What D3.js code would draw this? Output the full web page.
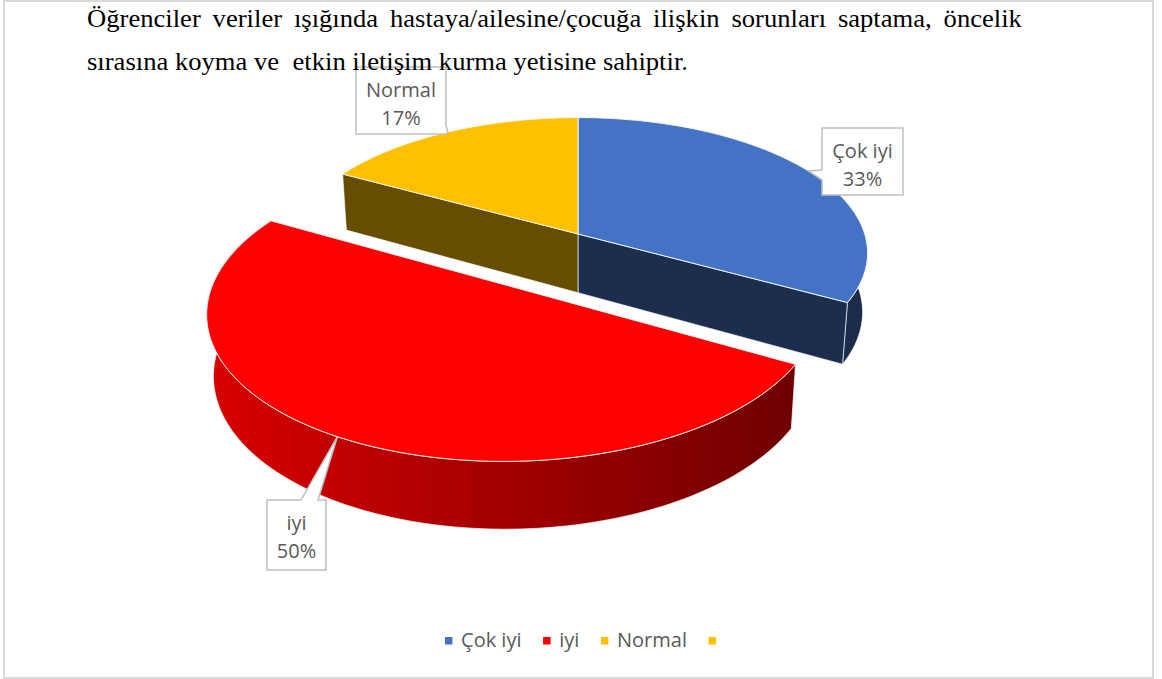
<!DOCTYPE html>
<html>
<head>
<meta charset="utf-8">
<script src="https://cdn.jsdelivr.net/npm/d3@7"></script>
<style>
  body { margin: 0; background: #fff; }
  svg { display: block; }
  .title text { font-family: "Liberation Serif", "Times New Roman", serif; font-size: 24.5px; fill: #000; white-space: pre; }
  .lbl text, .legend text { font-family: "Open Sans", sans-serif; font-size: 20px; fill: #595959; }
</style>
</head>
<body>
<div id="chart"></div>
<script>
// chart data
const categories = ['Çok iyi', 'iyi', 'Normal', ''];
const values = [33, 50, 17, 0];
const colors = ['#4472C4', '#FF0000', '#FFC000', '#FFC000'];
const titleLines = [
    'Öğrenciler veriler ışığında hastaya/ailesine/çocuğa ilişkin sorunları saptama, öncelik',
    'sırasına koyma ve  etkin iletişim kurma yetisine sahiptir.'
];

// exploded slices (in pie radii)
const explode = {'iyi': 0.435};

// callout boxes, side = where the wedge leaves the box, base = wedge base along that side
const labelBoxes = {
    'Çok iyi': {x: 822, y: 128, w: 81, h: 67, side: 'left', base: [42, 52]},
    'iyi': {x: 267, y: 500, w: 59, h: 70, side: 'top', base: [34, 51]},
    'Normal': {x: 356, y: 67, w: 90, h: 67, side: 'right', base: [58, 67]}
};

let width = 1162, height = 679,
    // projection of the 3d pie
    cx = 578, cy = 234,
    K = 286.7,
    sinE = 0.463, cosE = Math.sqrt(1 - 0.463 * 0.463),
    dist = 6.32,
    thick = 0.235;

// perspective projection: X right, Y up, Z away from viewer (units = pie radius)
function project(X, Y, Z) {
    let den = 1 + (Z * cosE - Y * sinE) / dist;
    return [cx + K * X / den, cy - K * (Z * sinE + Y * cosE) / den];
}

const svg = d3.select('#chart')
    .append('svg')
    .attr('width', width)
    .attr('height', height);

// chart border
svg.append('rect')
    .attr('x', 4).attr('y', 1)
    .attr('width', 1149).attr('height', 677)
    .attr('fill', '#fff')
    .attr('stroke', '#d9d9d9')
    .attr('stroke-width', 2);

const data = categories.map((c, i) => ({category: c, value: values[i], color: colors[i]}));
const total = d3.sum(values);
const arcs = d3.pie().sort(null).value(d => d.value)(data).filter(d => d.value > 0);

function offsetOf(d) {
    let e = explode[d.data.category] || 0,
        mid = (d.startAngle + d.endAngle) / 2;
    return {x: e * Math.sin(mid), z: e * Math.cos(mid)};
}

function rim(d, a, y) {
    let o = offsetOf(d);
    return project(o.x + Math.sin(a), y, o.z + Math.cos(a));
}

function centre(d, y) {
    let o = offsetOf(d);
    return project(o.x, y, o.z);
}

function arcPoints(d, a0, a1, y) {
    let n = Math.max(2, Math.ceil(Math.abs(a1 - a0) / (Math.PI / 180)));
    return d3.range(n + 1).map(i => rim(d, a0 + (a1 - a0) * i / n, y));
}

const line = d3.line().curve(d3.curveLinearClosed);

function shade(c, k) {
    let r = d3.rgb(c);
    return d3.rgb(r.r * k, r.g * k, r.b * k).formatHex();
}

// lighting of the outer walls goes from left (bright) to right (dark)
let allX = arcs.flatMap(d => arcPoints(d, d.startAngle, d.endAngle, 0).map(p => p[0])),
    xMin = d3.min(allX), xMax = d3.max(allX);

const defs = svg.append('defs');
arcs.forEach(d => {
    let grad = defs.append('linearGradient')
        .attr('id', 'wall-' + d.index)
        .attr('gradientUnits', 'userSpaceOnUse')
        .attr('x1', xMin).attr('x2', xMax)
        .attr('y1', 0).attr('y2', 0);
    grad.append('stop').attr('offset', 0).attr('stop-color', shade(d.data.color, 0.85));
    grad.append('stop').attr('offset', 1).attr('stop-color', shade(d.data.color, 0.38));
});

// back group first, exploded slices in front
const groups = [
    arcs.filter(d => !explode[d.data.category]),
    arcs.filter(d => explode[d.data.category])
];

groups.forEach(group => {
    let g = svg.append('g');

    group.forEach(d => {
        // outer wall
        let top = arcPoints(d, d.startAngle, d.endAngle, 0),
            bottom = arcPoints(d, d.endAngle, d.startAngle, -thick);
        g.append('path')
            .attr('d', line(top.concat(bottom)))
            .attr('fill', `url(#wall-${d.index})`)
            .attr('stroke', 'rgba(255,255,255,0.8)')
            .attr('stroke-width', 0.8);

        // cut faces that look at the viewer
        [[d.startAngle, d.startAngle - Math.PI / 2], [d.endAngle, d.endAngle + Math.PI / 2]].forEach(([a, n]) => {
            if (Math.cos(n) > -1e-6) return;
            let pts = [centre(d, 0), centre(d, -thick), rim(d, a, -thick), rim(d, a, 0)];
            g.append('path')
                .attr('d', line(pts))
                .attr('fill', shade(d.data.color, 0.4))
                .attr('stroke', 'rgba(255,255,255,0.8)')
                .attr('stroke-width', 0.8);
        });
    });

    // top faces
    group.forEach(d => {
        let pts = [centre(d, 0)].concat(arcPoints(d, d.startAngle, d.endAngle, 0));
        g.append('path')
            .attr('d', line(pts))
            .attr('fill', d.data.color)
            .attr('stroke', 'rgba(255,255,255,0.9)')
            .attr('stroke-width', 1);
    });
});

// data label callouts
function calloutPath(b, tip) {
    let x2 = b.x + b.w, y2 = b.y + b.h, p = d3.path();
    p.moveTo(b.x, b.y);
    if (b.side === 'top') {
        p.lineTo(b.x + b.base[0], b.y); p.lineTo(tip[0], tip[1]); p.lineTo(b.x + b.base[1], b.y);
    }
    p.lineTo(x2, b.y);
    if (b.side === 'right') {
        p.lineTo(x2, b.y + b.base[0]); p.lineTo(tip[0], tip[1]); p.lineTo(x2, b.y + b.base[1]);
    }
    p.lineTo(x2, y2);
    if (b.side === 'bottom') {
        p.lineTo(b.x + b.base[1], y2); p.lineTo(tip[0], tip[1]); p.lineTo(b.x + b.base[0], y2);
    }
    p.lineTo(b.x, y2);
    if (b.side === 'left') {
        p.lineTo(b.x, b.y + b.base[1]); p.lineTo(tip[0], tip[1]); p.lineTo(b.x, b.y + b.base[0]);
    }
    p.closePath();
    return p.toString();
}

const pct = d3.format('.0%');
const labels = svg.append('g').attr('class', 'lbl');

arcs.forEach(d => {
    let b = labelBoxes[d.data.category];
    if (!b) return;
    let tip = rim(d, (d.startAngle + d.endAngle) / 2, 0);
    labels.append('path')
        .attr('d', calloutPath(b, tip))
        .attr('fill', '#fff')
        .attr('stroke', '#bfbfbf')
        .attr('stroke-width', 1.5);
    labels.append('text')
        .attr('x', b.x + b.w / 2).attr('y', b.y + 30)
        .attr('text-anchor', 'middle')
        .text(d.data.category);
    labels.append('text')
        .attr('x', b.x + b.w / 2).attr('y', b.y + 57.5)
        .attr('text-anchor', 'middle')
        .text(pct(d.data.value / total));
});

// legend
const legend = svg.append('g').attr('class', 'legend');
let sq = 7.5, gap = 8.6, spacing = 21.6, legendY = 647;

let items = legend.selectAll('g')
    .data(data)
    .join('g');

items.append('rect')
    .attr('width', sq).attr('height', sq)
    .attr('y', legendY - 10)
    .attr('fill', d => d.color);

items.append('text')
    .attr('x', sq + gap)
    .attr('y', legendY)
    .text(d => d.category);

let itemWidths = [];
items.each(function (d) {
    let tw = d.category ? d3.select(this).select('text').node().getComputedTextLength() : 0;
    itemWidths.push(sq + (tw > 0 ? gap + tw : 0));
});
let legendWidth = d3.sum(itemWidths) + spacing * (itemWidths.length - 1),
    lx = 580.5 - legendWidth / 2;
items.attr('transform', (d, i) => {
    let x = lx;
    lx += itemWidths[i] + spacing;
    return `translate(${x},0)`;
});

// heading text above the chart (justified first line)
const titleG = svg.append('g').attr('class', 'title');
let t1 = titleG.append('text').attr('x', 0).attr('y', 27).text(titleLines[0]),
    t2 = titleG.append('text').attr('x', 0).attr('y', 70).text(titleLines[1]);

let k = 601 / t2.node().getComputedTextLength(),
    spaces = (titleLines[0].match(/ /g) || []).length,
    extra = (935 / k - t1.node().getComputedTextLength()) / spaces;

t1.style('word-spacing', extra + 'px');
titleG.attr('transform', `translate(87,0) scale(${k},1)`);
</script>
</body>
</html>
